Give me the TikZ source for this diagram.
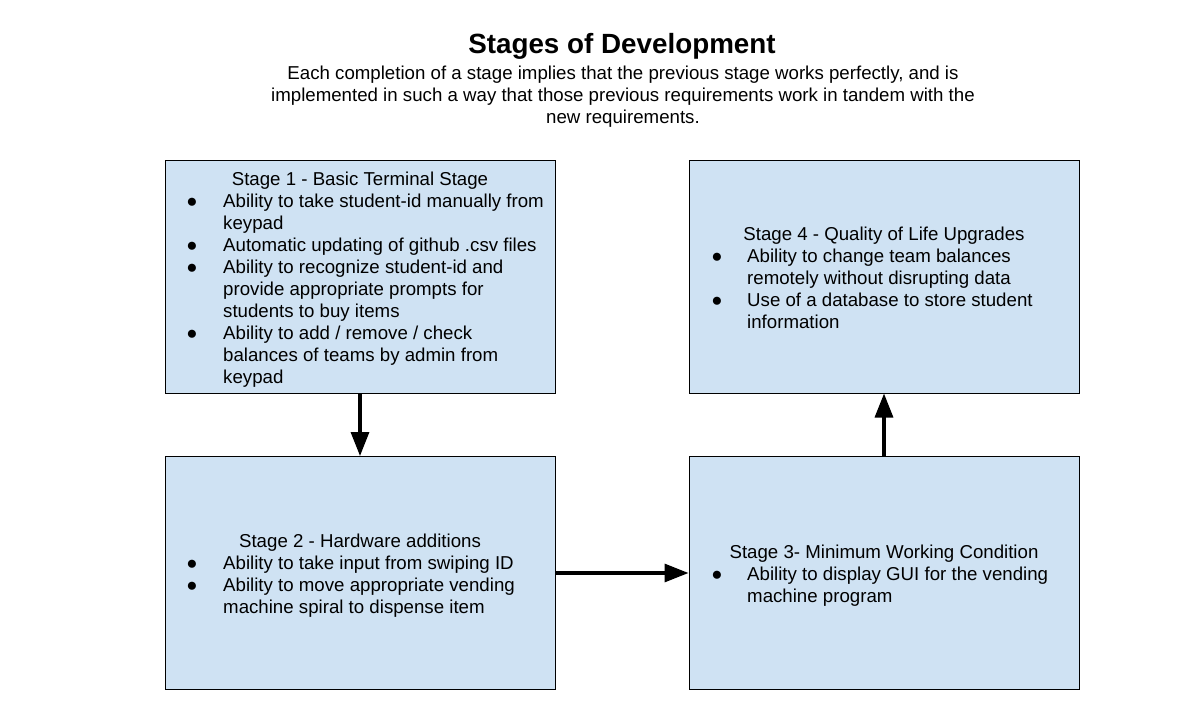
\documentclass[tikz,border=0pt]{standalone}
\usepackage{fontspec}
\setmainfont{Liberation Sans}
\usetikzlibrary{arrows.meta}
\definecolor{boxblue}{HTML}{CFE2F3}
\begin{document}
\begin{tikzpicture}[x=1pt,y=-1pt,
  stagebox/.style={draw=black, line width=1pt, fill=boxblue, minimum width=390pt, minimum height=233pt, inner sep=0pt},
  txt/.style={inner sep=0pt, font=\fontsize{18.67pt}{22pt}\selectfont},
  hd/.style={txt, anchor=base},
  it/.style={txt, anchor=base west},
  bul/.style={txt, anchor=base},
  ttl/.style={inner sep=0pt, anchor=base, font=\fontsize{27.8pt}{33pt}\selectfont\bfseries},
  flow/.style={line width=3.2pt, -{Triangle[length=24pt,width=18pt]}}
]
\useasboundingbox (0,0) rectangle (1179,725);
\fill[white] (0,0) rectangle (1179,725);

% title
\node[ttl] (title) at (622,54) {Stages of Development};
\node[hd] (sub1) at (623,80) {Each completion of a stage implies that the previous stage works perfectly, and is};
\node[hd] (sub2) at (623,102) {implemented in such a way that those previous requirements work in tandem with the};
\node[hd] (sub3) at (623,124) {new requirements.};

% boxes
\node[stagebox] (s1) at (360,276.5) {};
\node[stagebox] (s2) at (360,573) {};
\node[stagebox] (s3) at (884,573) {};
\node[stagebox] (s4) at (884,276.5) {};

% stage 1
\node[hd] (s1h) at (360,185) {Stage 1 - Basic Terminal Stage};
\node[bul] (s1b1) at (192,207) {●};
\node[it] (s1l1) at (223,207) {Ability to take student-id manually from};
\node[it] (s1l2) at (223,229) {keypad};
\node[bul] (s1b2) at (192,251) {●};
\node[it] (s1l3) at (223,251) {Automatic updating of github .csv files};
\node[bul] (s1b3) at (192,273) {●};
\node[it] (s1l4) at (223,273) {Ability to recognize student-id and};
\node[it] (s1l5) at (223,295) {provide appropriate prompts for};
\node[it] (s1l6) at (223,317) {students to buy items};
\node[bul] (s1b4) at (192,339) {●};
\node[it] (s1l7) at (223,339) {Ability to add / remove / check};
\node[it] (s1l8) at (223,361) {balances of teams by admin from};
\node[it] (s1l9) at (223,383) {keypad};

% stage 2
\node[hd] (s2h) at (360,547) {Stage 2 - Hardware additions};
\node[bul] (s2b1) at (192,569) {●};
\node[it] (s2l1) at (223,569) {Ability to take input from swiping ID};
\node[bul] (s2b2) at (192,591) {●};
\node[it] (s2l2) at (223,591) {Ability to move appropriate vending};
\node[it] (s2l3) at (223,613) {machine spiral to dispense item};

% stage 3
\node[hd] (s3h) at (884,558) {Stage 3- Minimum Working Condition};
\node[bul] (s3b1) at (717,580) {●};
\node[it] (s3l1) at (747,580) {Ability to display GUI for the vending};
\node[it] (s3l2) at (747,602) {machine program};

% stage 4
\node[hd] (s4h) at (884,240) {Stage 4 - Quality of Life Upgrades};
\node[bul] (s4b1) at (717,262) {●};
\node[it] (s4l1) at (747,262) {Ability to change team balances};
\node[it] (s4l2) at (747,284) {remotely without disrupting data};
\node[bul] (s4b2) at (717,306) {●};
\node[it] (s4l3) at (747,306) {Use of a database to store student};
\node[it] (s4l4) at (747,328) {information};

% arrows
\draw[flow] (s1.south) -- (s2.north);
\draw[flow] (s2.east) -- (s3.west);
\draw[flow] (s3.north) -- (s4.south);
\end{tikzpicture}
\end{document}
